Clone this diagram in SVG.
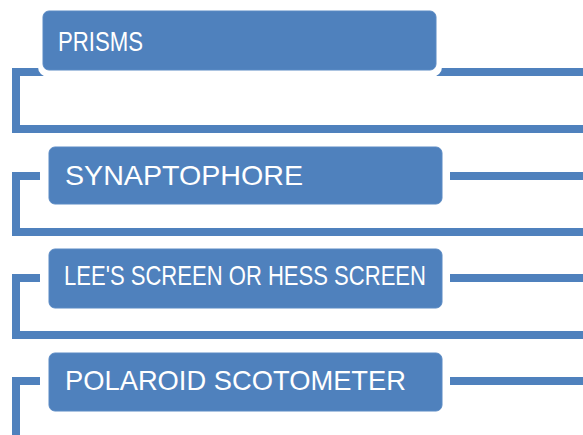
<svg xmlns="http://www.w3.org/2000/svg" width="583" height="435" viewBox="0 0 583 435">
  <style>
    .bar { fill: none; stroke: #4F81BD; stroke-width: 8; stroke-linejoin: miter; stroke-linecap: butt; }
    .box { fill: #4F81BD; stroke: #5A8AC4; stroke-width: 1; }
    .halo { fill: #FFFFFF; }
    .lbl { fill: #FFFFFF; font-family: "Liberation Sans", Arial, sans-serif; font-size: 28px; }
  </style>
  <rect width="583" height="435" fill="#FFFFFF"/>
  <g id="connectors">
    <path class="bar" d="M 590 72 H 16 V 129 H 590"/>
    <path class="bar" d="M 40 176 H 16 V 232 H 590"/>
    <path class="bar" d="M 450 176 H 590"/>
    <path class="bar" d="M 40 278 H 16 V 335 H 590"/>
    <path class="bar" d="M 450 278 H 590"/>
    <path class="bar" d="M 40 381 H 16 V 440"/>
    <path class="bar" d="M 450 381 H 590"/>
  </g>
  <g id="node-prisms">
    <rect class="halo" x="38" y="6" width="404" height="71" rx="10"/>
    <rect class="box" x="43" y="11" width="393" height="59" rx="6"/>
    <text class="lbl" x="58" y="51" textLength="85" lengthAdjust="spacingAndGlyphs">PRISMS</text>
  </g>
  <g id="node-synaptophore">
    <rect class="box" x="49" y="147" width="393" height="57" rx="6"/>
    <text class="lbl" x="65" y="185" textLength="238" lengthAdjust="spacingAndGlyphs">SYNAPTOPHORE</text>
  </g>
  <g id="node-lees-screen">
    <rect class="box" x="49" y="249" width="393" height="59" rx="6"/>
    <text class="lbl" x="64" y="285" textLength="362" lengthAdjust="spacingAndGlyphs">LEE'S SCREEN OR HESS SCREEN</text>
  </g>
  <g id="node-polaroid">
    <rect class="box" x="49" y="353" width="393" height="58" rx="6"/>
    <text class="lbl" x="65" y="390" textLength="341" lengthAdjust="spacingAndGlyphs">POLAROID SCOTOMETER</text>
  </g>
</svg>
